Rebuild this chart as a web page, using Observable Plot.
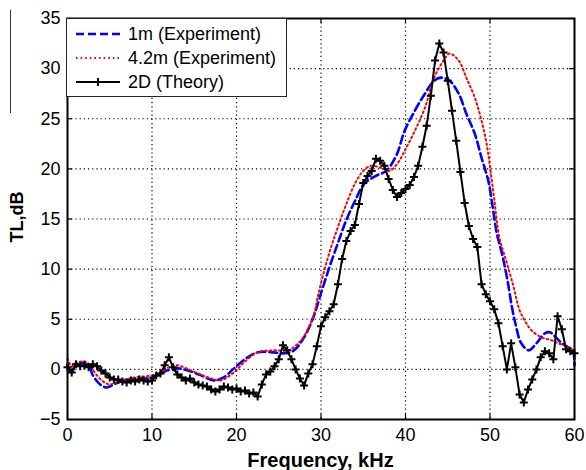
<!DOCTYPE html>
<html>
<head>
<meta charset="utf-8">
<script src="https://cdn.jsdelivr.net/npm/d3@7"></script>
<script src="https://cdn.jsdelivr.net/npm/@observablehq/plot@0.6"></script>
<style>
  body { margin: 0; background: #fff; }
  #wrap { position: relative; width: 586px; height: 470px; font-family: Arial, "Liberation Sans", sans-serif; color: #000; }
  #legend { position: absolute; left: 66px; top: 18px; width: 221px; height: 79px; border: 1px solid #222; background: #fff; box-sizing: border-box; }
  .row { position: absolute; left: 0; height: 22px; width: 100%; }
  .row svg { position: absolute; left: 8px; top: 0; }
  .row span { position: absolute; left: 61px; top: 0; font-size: 18px; line-height: 22px; white-space: nowrap; }
  #xlabel { position: absolute; left: 67px; width: 507px; top: 450px; text-align: center; font-weight: bold; font-size: 20px; line-height: 20px; }
  #ylabel { position: absolute; left: -33px; top: 208px; width: 100px; height: 18px; text-align: center; font-weight: bold; font-size: 18px; line-height: 18px; transform: rotate(-90deg); }
  #stray { position: absolute; left: 10px; top: 10px; height: 103px; border-left: 1px solid #333; }
</style>
</head>
<body>
<div id="wrap">
  <div id="chart"></div>
  <div id="stray"></div>
  <div id="legend"></div>
  <div id="xlabel"></div>
  <div id="ylabel"></div>
</div>
<script>
// ---- data ----
const seriesNames = ["1m (Experiment)", "4.2m (Experiment)", "2D (Theory)"];
const xLabel = "Frequency, kHz";
const yLabel = "TL,dB";
const xTicks = [0, 10, 20, 30, 40, 50, 60];
const yTicks = [-5, 0, 5, 10, 15, 20, 25, 30, 35];

const exp1Freq = [0, 0.5, 1, 1.5, 2.5, 3, 4, 4.7, 6, 8, 9.5, 10.7, 11.8, 13, 14.2, 15.8, 17.3, 18.5, 19.7, 21.3, 22.5, 24.4, 25.6, 26.8, 28, 29.1, 30, 31, 32, 33, 34.2, 35.1, 36.5, 37.7, 38.9, 39.9, 41.1, 42.3, 43.4, 44.2, 45.2, 46.3, 47.2, 48.2, 49, 49.8, 50.3, 50.8, 51.4, 52, 52.6, 53, 53.7, 54.6, 55.5, 56.5, 57.1, 57.9, 58.5, 59.3, 59.8, 60];
const exp1TL   = [0.5, -0.3, 0.6, 0.7, 0.4, -0.6, -1.6, -1.8, -1.3, -0.9, -0.9, -0.6, -0.1, 0.1, -0.1, -0.6, -1.1, -0.8, 0.1, 1.2, 1.7, 1.7, 1.6, 1.9, 3.2, 5.2, 7.6, 10.2, 12.6, 14.9, 17.1, 18.5, 19.3, 19.8, 21.3, 23.8, 25.8, 27.5, 28.8, 29.1, 28.8, 27.5, 25.5, 23.5, 21.1, 18.8, 16.3, 13.6, 11.6, 9.2, 6.2, 4.6, 2.6, 1.9, 2.6, 3.6, 3.7, 3.1, 2.6, 2.2, 1.9, 0.4];

const exp42Freq = [0, 0.5, 1, 2, 2.7, 3.3, 4.2, 5, 6, 8, 10, 11, 12, 13, 14.6, 16, 17, 18.1, 19.7, 20.9, 22.5, 24.4, 26.1, 27.3, 28.2, 29.2, 29.6, 30.4, 31.2, 32, 33, 34, 35, 35.9, 37.1, 38.1, 39.1, 39.9, 41.1, 42.3, 43.4, 44.5, 45.2, 46.3, 47.2, 48.2, 49, 49.6, 50, 50.5, 51.1, 52, 52.8, 53.5, 54.1, 54.9, 56.1, 57.3, 58.1, 59.3, 59.8, 60];
const exp42TL   = [1.1, 0.3, 0.6, 0.8, 0.4, -0.4, -1.2, -1.5, -1.2, -0.8, -0.6, -0.3, 0.2, 0.4, -0.1, -0.6, -0.9, -1.1, -0.3, 0.7, 1.7, 1.9, 1.9, 2.6, 3.6, 5.6, 7.2, 9.9, 12.2, 14.2, 16.5, 18.5, 19.8, 20.3, 20.1, 19.8, 20.6, 21.8, 23.8, 26.1, 29.1, 30.8, 31.5, 30.8, 29.1, 27.1, 24.8, 22.5, 20.2, 17.0, 13.2, 10.6, 8.2, 5.9, 4.9, 3.9, 3.2, 2.9, 2.6, 2.2, 1.9, 0.5];

const theoryFreq = [0, 0.5, 1, 1.5, 2, 2.5, 3, 3.5, 4, 4.5,
  5, 5.5, 6, 6.5, 7, 7.5, 8, 8.5, 9, 9.5,
  10, 10.5, 11, 11.5, 12, 12.5, 13, 13.5, 14, 14.5,
  15, 15.5, 16, 16.5, 17, 17.5, 18, 18.5, 19, 19.5,
  20, 20.5, 21, 21.5, 22, 22.5, 23, 23.5, 24, 24.5,
  25, 25.5, 26, 26.5, 27, 27.5, 28, 28.5, 29, 29.5,
  30, 30.5, 31, 31.5, 32, 32.5, 33, 33.5, 34, 34.5,
  35, 35.5, 36, 36.5, 37, 37.5, 38, 38.5, 39, 39.5,
  40, 40.5, 41, 41.5, 42, 42.5, 43, 43.5, 44, 44.5,
  45, 45.5, 46, 46.5, 47, 47.5, 48, 48.5, 49, 49.5,
  50, 50.5, 51, 51.5, 52, 52.5, 53, 53.5, 54, 54.5,
  55, 55.5, 56, 56.5, 57, 57.5, 58, 58.5, 59, 59.5,
  60];
const theoryTL = [0.2, -0.3, 0.5, 0.3, 0.4, 0.2, 0.5, 0.3, -0.1, -0.4,
  -0.8, -1.0, -1.0, -1.2, -1.3, -1.1, -1.2, -1.0, -1.1, -1.2,
  -1.1, -0.6, -0.4, 0.4, 1.2, 0.2, -0.5, -0.8, -1.1, -0.9,
  -1.3, -1.5, -1.6, -1.7, -2.0, -2.2, -2.0, -1.7, -1.8, -2.0,
  -1.9, -2.2, -2.1, -2.4, -2.3, -2.7, -1.5, -0.5, -0.2, 0.3,
  1.0, 2.4, 1.9, 1.0, 0.0, -0.9, -1.6, -0.4, 0.5, 2.3,
  4.3, 5.2, 5.8, 6.5, 8.5, 11.0, 12.8, 13.8, 14.4, 16.5,
  18.6, 19.3, 19.8, 21.0, 20.8, 20.3, 19.0, 17.9, 17.2, 17.6,
  18.0, 18.4, 19.2, 20.3, 22.2, 24.3, 27.3, 30.8, 32.5, 31.6,
  28.8, 25.8, 22.8, 19.7, 16.6, 14.3, 13.0, 12.2, 8.5, 7.5,
  6.8, 6.0, 4.6, 2.3, 0.0, 2.6, 0.2, -2.5, -3.3, -2.0,
  -1.0, 0.0, 1.2, 1.8, 1.6, 1.0, 5.3, 4.0, 2.0, 1.8,
  1.6];

// ---- tables ----
const exp1 = exp1Freq.map((f, i) => ({f, tl: exp1TL[i]}));
const exp42 = exp42Freq.map((f, i) => ({f, tl: exp42TL[i]}));
const theory = theoryFreq.map((f, i) => ({f, tl: theoryTL[i]}));

// ---- styles ----
const W = 586, H = 470;
const mL = 67, mR = 12, mT = 18, mB = 51;
const innerW = W - mL - mR, innerH = H - mT - mB;
const tickLen = 5;
const blueStyle = {stroke: "#0000ff", strokeWidth: 2.6, strokeDasharray: "8,4"};
const redStyle = {stroke: "#ff0000", strokeWidth: 2, strokeDasharray: "1.6,3"};
const blackStyle = {stroke: "#000", strokeWidth: 2};
const gridStyle = {stroke: "#000", strokeOpacity: 1, strokeWidth: 1.2, strokeDasharray: "1.2,3"};
const plusSymbol = {
  draw(ctx, size) {
    const r = Math.sqrt(size / Math.PI);
    ctx.moveTo(-r, 0); ctx.lineTo(r, 0);
    ctx.moveTo(0, -r); ctx.lineTo(0, r);
  }
};

const chart = Plot.plot({
  width: W, height: H,
  marginLeft: mL, marginRight: mR, marginTop: mT, marginBottom: mB,
  style: {fontFamily: 'Arial, "Liberation Sans", sans-serif', fontSize: "18px", color: "#000", background: "#fff"},
  x: {domain: [0, 60]},
  y: {domain: [-5, 35]},
  marks: [
    Plot.gridX(xTicks.slice(1, -1), gridStyle),
    Plot.gridY(yTicks.slice(1, -1), gridStyle),
    Plot.ruleX(xTicks, {x: d => d, stroke: "#000", strokeWidth: 1.2, insetTop: innerH - tickLen}),
    Plot.ruleX(xTicks, {x: d => d, stroke: "#000", strokeWidth: 1.2, insetBottom: innerH - tickLen}),
    Plot.ruleY(yTicks, {y: d => d, stroke: "#000", strokeWidth: 1.2, insetRight: innerW - tickLen}),
    Plot.ruleY(yTicks, {y: d => d, stroke: "#000", strokeWidth: 1.2, insetLeft: innerW - tickLen}),
    Plot.line(exp1, {x: "f", y: "tl", curve: "catmull-rom", ...blueStyle}),
    Plot.line(exp42, {x: "f", y: "tl", curve: "catmull-rom", ...redStyle}),
    Plot.line(theory, {x: "f", y: "tl", ...blackStyle}),
    Plot.dot(theory, {x: "f", y: "tl", symbol: plusSymbol, r: 4, stroke: "#000", strokeWidth: 2, fill: "none"}),
    Plot.axisX(xTicks, {anchor: "bottom", tickSize: 0, tickPadding: 9, fontSize: 18, label: null}),
    Plot.axisY(yTicks, {anchor: "left", tickSize: 0, tickPadding: 7, fontSize: 18, label: null}),
    Plot.frame({stroke: "#000", strokeWidth: 2})
  ]
});
document.getElementById("chart").appendChild(chart);

// ---- legend ----
const legend = document.getElementById("legend");
const rowTops = [4, 28, 52];
const sampleStyles = [blueStyle, redStyle, blackStyle];
seriesNames.forEach((name, i) => {
  const row = document.createElement("div");
  row.className = "row";
  row.style.top = rowTops[i] + "px";
  const s = sampleStyles[i];
  let svg = `<svg width="46" height="22"><line x1="1" x2="45" y1="11" y2="11" stroke="${s.stroke}" stroke-width="${s.strokeWidth}" ${s.strokeDasharray ? `stroke-dasharray="${s.strokeDasharray}"` : ""}/>`;
  if (i === 2) svg += `<path d="M19,11H27M23,7V15" stroke="#000" stroke-width="2" fill="none"/>`;
  svg += `</svg>`;
  row.innerHTML = svg + `<span>${name}</span>`;
  legend.appendChild(row);
});
document.getElementById("xlabel").textContent = xLabel;
document.getElementById("ylabel").textContent = yLabel;
</script>
</body>
</html>
